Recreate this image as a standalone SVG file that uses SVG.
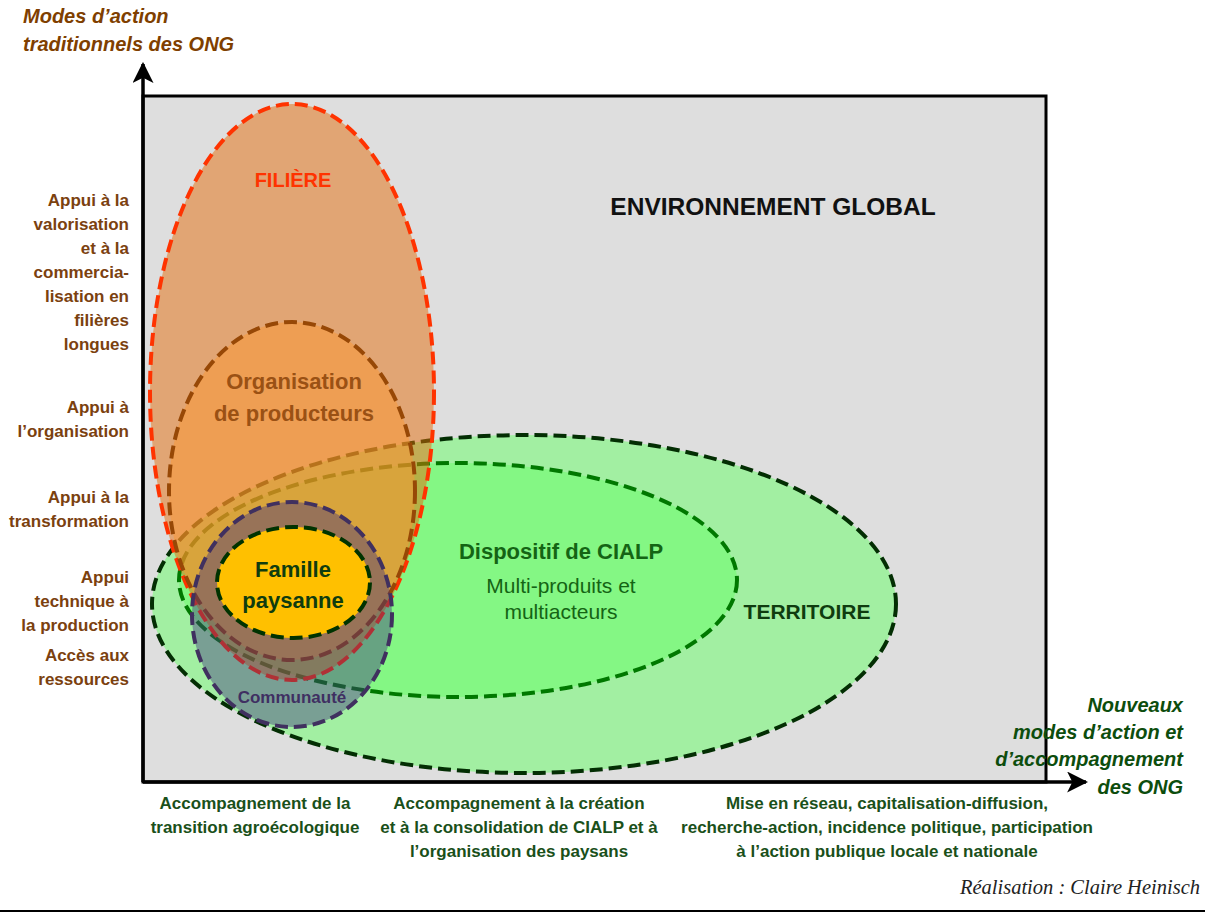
<svg xmlns="http://www.w3.org/2000/svg" width="1205" height="915" viewBox="0 0 1205 915">
<style>
text{font-family:"Liberation Sans",Arial,sans-serif;}
.b{font-weight:bold;}
.lbl{font-size:17px;font-weight:bold;fill:#7B410F;text-anchor:end;}
.bot{font-size:17px;font-weight:bold;fill:#1A501A;text-anchor:middle;}
.ttl{font-size:20px;font-weight:bold;font-style:italic;}
.dash{stroke-dasharray:13 6;stroke-width:4;}
.mid{text-anchor:middle;}
</style>
<defs>
<marker id="arr" viewBox="0 0 20 20" refX="18" refY="10" markerWidth="6" markerHeight="6" markerUnits="strokeWidth" orient="auto">
<path d="M0,0 L20,10 L0,20 L5,10 Z" fill="#000"/>
</marker>
</defs>
<rect x="0" y="0" width="1205" height="915" fill="#fff"/>
<g id="environnement">
<rect x="143" y="96" width="903" height="686" fill="#DEDEDE" stroke="#000" stroke-width="3"/>
<text x="773" y="215" class="b mid" font-size="24.5" fill="#111">ENVIRONNEMENT GLOBAL</text>
</g>
<g id="territoire">
<ellipse cx="524" cy="604" rx="372" ry="169" fill="#66FF66" fill-opacity="0.5" stroke="#032E03" class="dash" stroke-width="4.5" stroke-dasharray="14 7"/>
<text x="807" y="619" class="b mid" font-size="21" fill="#0F3C0F">TERRITOIRE</text>
</g>
<g id="cialp">
<ellipse cx="458" cy="580" rx="279" ry="117" fill="#66FF66" fill-opacity="0.5" stroke="#007800" class="dash" stroke-width="4.5" stroke-dasharray="14 7"/>
<text x="561" y="559" class="b mid" font-size="22" fill="#146414">Dispositif de CIALP</text>
<text x="561" y="593" class="mid" font-size="21" fill="#146414">Multi-produits et</text>
<text x="561" y="619" class="mid" font-size="21" fill="#146414">multiacteurs</text>
</g>
<g id="filiere">
<ellipse cx="292" cy="392" rx="142" ry="288" fill="#E46C0A" fill-opacity="0.5" stroke="#FF3300" class="dash"/>
<text x="293" y="187" class="b mid" font-size="20" fill="#FF3300">FILIÈRE</text>
</g>
<g id="organisation">
<ellipse cx="292" cy="491" rx="123" ry="169" fill="#FB9732" fill-opacity="0.5" stroke="#974806" class="dash"/>
<text x="294" y="389" class="b mid" font-size="22" fill="#9A5114">Organisation</text>
<text x="294" y="421" class="b mid" font-size="22" fill="#9A5114">de producteurs</text>
</g>
<g id="communaute">
<ellipse cx="292" cy="614.5" rx="100" ry="112.5" fill="#403080" fill-opacity="0.42" stroke="#40305F" class="dash"/>
<text x="292" y="703" class="b mid" font-size="17" fill="#3F2F62">Communauté</text>
</g>
<g id="famille">
<ellipse cx="293.5" cy="582.5" rx="76.5" ry="55.5" fill="#FFC000" stroke="#003300" class="dash" stroke-width="4.5"/>
<text x="293" y="577" class="b mid" font-size="22" fill="#0F3C0F">Famille</text>
<text x="293" y="608" class="b mid" font-size="22" fill="#0F3C0F">paysanne</text>
</g>
<g id="connectors" stroke="#000" stroke-width="3.5" fill="none">
<line x1="143" y1="782" x2="143" y2="64" marker-end="url(#arr)"/>
<line x1="143" y1="782" x2="1086" y2="782" marker-end="url(#arr)"/>
</g>
<g id="axe-vertical-titre" class="ttl" fill="#7F3F00">
<text x="23" y="23">Modes d’action</text>
<text x="23" y="51">traditionnels des ONG</text>
</g>
<g id="axe-horizontal-titre" class="ttl" fill="#0D4D0D" text-anchor="end">
<text x="1183" y="712">Nouveaux</text>
<text x="1183" y="739">modes d’action et</text>
<text x="1183" y="766">d’accompagnement</text>
<text x="1183" y="794">des ONG</text>
</g>
<g id="labels-gauche">
<text x="129" y="206" class="lbl">Appui à la</text>
<text x="129" y="230" class="lbl">valorisation</text>
<text x="129" y="254" class="lbl">et à la</text>
<text x="129" y="278" class="lbl">commercia-</text>
<text x="129" y="302" class="lbl">lisation en</text>
<text x="129" y="326" class="lbl">filières</text>
<text x="129" y="350" class="lbl">longues</text>
<text x="129" y="413" class="lbl">Appui à</text>
<text x="129" y="437" class="lbl">l’organisation</text>
<text x="129" y="503" class="lbl">Appui à la</text>
<text x="129" y="527" class="lbl">transformation</text>
<text x="129" y="583" class="lbl">Appui</text>
<text x="129" y="607" class="lbl">technique à</text>
<text x="129" y="631" class="lbl">la production</text>
<text x="129" y="661" class="lbl">Accès aux</text>
<text x="129" y="685" class="lbl">ressources</text>
</g>
<g id="labels-bas">
<text x="255" y="809" class="bot">Accompagnement de la</text>
<text x="255" y="833" class="bot">transition agroécologique</text>
<text x="519" y="809" class="bot">Accompagnement à la création</text>
<text x="519" y="833" class="bot">et à la consolidation de CIALP et à</text>
<text x="519" y="857" class="bot">l’organisation des paysans</text>
<text x="887" y="809" class="bot">Mise en réseau, capitalisation-diffusion,</text>
<text x="887" y="833" class="bot">recherche-action, incidence politique, participation</text>
<text x="887" y="857" class="bot">à l’action publique locale et nationale</text>
</g>
<text x="1200" y="894" style="font-family:'Liberation Serif',serif" font-style="italic" font-size="20.5" fill="#222" text-anchor="end">Réalisation : Claire Heinisch</text>
<line x1="0" y1="911" x2="1205" y2="911" stroke="#000" stroke-width="2"/>
</svg>
